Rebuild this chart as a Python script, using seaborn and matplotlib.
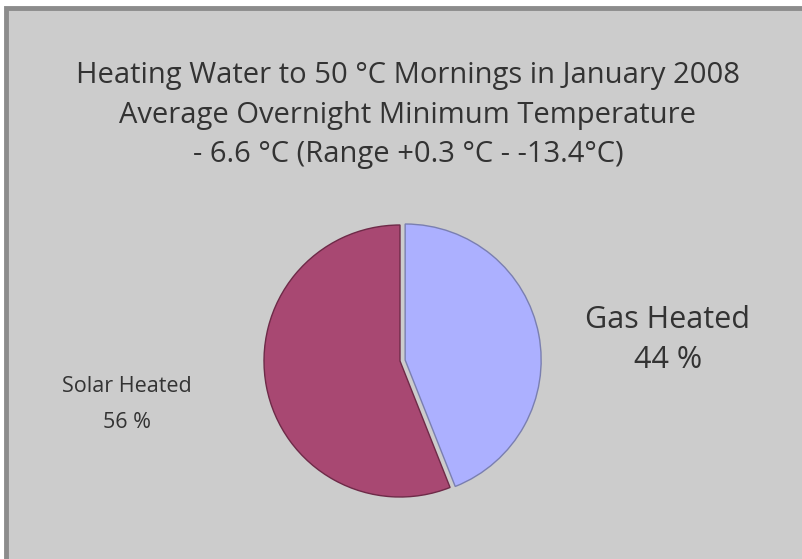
import matplotlib
matplotlib.use("Agg")
import matplotlib.pyplot as plt
import matplotlib.patches as mpatches
import seaborn as sns

# Share of morning hot water by heating source, January 2008
sources = ["Gas Heated", "Solar Heated"]
shares = [44, 56]
title_lines = [
    "Heating Water to 50 °C Mornings in January 2008",
    "Average Overnight Minimum Temperature",
    "- 6.6 °C (Range +0.3 °C - -13.4°C)",
]

sns.set_theme(style="white")
plt.rcParams["font.family"] = ["Open Sans", "DejaVu Sans"]

slice_colors = sns.color_palette(["#acb0ff", "#a84872"])
edge_colors = ["#7a7fb0", "#6e2a48"]
text_color = "#333333"

W, H = 803, 559
fig = plt.figure(figsize=(W / 100, H / 100), dpi=100)
fig.patch.set_facecolor("white")

# Gray panel with a darker frame along the top and left
panel = mpatches.Rectangle((6 / W, -0.05), 1.1, (H - 8) / H + 0.05,
                           transform=fig.transFigure, facecolor="#cccccc",
                           edgecolor="#8c8c8c", linewidth=3.5, zorder=-1)
fig.patches.append(panel)

# Title block
for i, line in enumerate(title_lines):
    fig.text(408 / W, 1 - (75 + 40 * i) / H, line, ha="center", va="center",
             fontsize=21, color=text_color)

# Pie
cx, cy, box = 400, 361, 150
ax = fig.add_axes([(cx - box) / W, (H - cy - box) / H, 2 * box / W, 2 * box / H])
ax.set_facecolor("none")
wedges, _ = ax.pie(shares, colors=slice_colors, startangle=90, counterclock=False,
                   radius=136 / box, explode=[0.035, 0.0],
                   wedgeprops=dict(linewidth=1.0))
for w, ec in zip(wedges, edge_colors):
    w.set_edgecolor(ec)
ax.set_xlim(-1, 1)
ax.set_ylim(-1, 1)
ax.axis("off")

# Slice labels
fig.text(668 / W, 1 - 320 / H, sources[0], ha="center", va="center",
         fontsize=22, color=text_color)
fig.text(668 / W, 1 - 360 / H, f"{shares[0]} %", ha="center", va="center",
         fontsize=22, color=text_color)
fig.text(127 / W, 1 - 387 / H, sources[1], ha="center", va="center",
         fontsize=15.5, color=text_color)
fig.text(127 / W, 1 - 423 / H, f"{shares[1]} %", ha="center", va="center",
         fontsize=15.5, color=text_color)

fig.savefig("out.png", dpi=100)
